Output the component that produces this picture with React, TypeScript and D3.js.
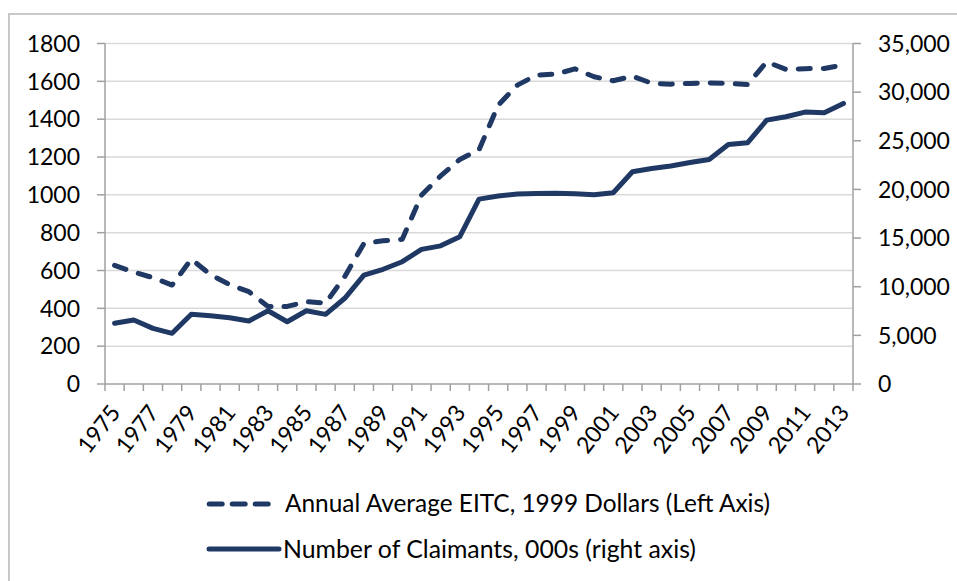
import React from 'react';
import * as d3 from 'd3';

const years = [
  '1975', '1976', '1977', '1978', '1979', '1980', '1981', '1982', '1983', '1984',
  '1985', '1986', '1987', '1988', '1989', '1990', '1991', '1992', '1993', '1994',
  '1995', '1996', '1997', '1998', '1999', '2000', '2001', '2002', '2003', '2004',
  '2005', '2006', '2007', '2008', '2009', '2010', '2011', '2012', '2013',
];

// annual average EITC, 1999 dollars (left axis)
const eitc = [
  627, 592, 562, 523, 660, 578, 525, 488, 410, 410,
  435, 428, 568, 743, 757, 765, 998, 1100, 1187, 1238,
  1474, 1580, 1633, 1638, 1666, 1624, 1603, 1627, 1590, 1585,
  1589, 1592, 1589, 1583, 1703, 1663, 1667, 1668, 1686,
];

// number of claimants, 000s (right axis)
const claimants = [
  6240, 6580, 5720, 5210, 7160, 7020, 6815, 6475, 7530, 6400,
  7530, 7160, 8810, 11200, 11790, 12570, 13840, 14200, 15140, 19000,
  19320, 19520, 19590, 19600, 19560, 19450, 19660, 21820, 22160, 22400,
  22770, 23080, 24620, 24790, 27120, 27470, 27950, 27880, 28840,
];

const leftTicks = [0, 200, 400, 600, 800, 1000, 1200, 1400, 1600, 1800];
const rightTicks = [0, 5000, 10000, 15000, 20000, 25000, 30000, 35000];

const legendLabels = [
  'Annual Average EITC, 1999 Dollars (Left Axis)',
  'Number of Claimants, 000s (right axis)',
];

const W = 957;
const H = 581;
const navy = '#1f3864';
const font = 'Lato, "Open Sans", sans-serif';

export default function App() {
  const left = 105, right = 853, top = 43.5, bottom = 384;

  const x = d3.scaleBand<string>().domain(years).range([left, right]).padding(0);
  const yL = d3.scaleLinear().domain([0, 1800]).range([bottom, top]);
  const yR = d3.scaleLinear().domain([0, 35000]).range([bottom, top]);
  const cx = (y: string) => (x(y) as number) + x.bandwidth() / 2;

  const eitcLine = d3.line<number>()
    .x((_, i) => cx(years[i]))
    .y(d => yL(d));
  const claimLine = d3.line<number>()
    .x((_, i) => cx(years[i]))
    .y(d => yR(d));

  const fmt = d3.format(',');
  const boundaries = d3.range(years.length + 1).map(i => left + i * x.step());

  return (
    <svg width={W} height={H} style={{ position: 'absolute', left: 0, top: 0, background: '#fff' }}
      fontFamily={font}>
      <rect x={9} y={14} width={980} height={620} fill="#fff" stroke="#c8c8c8" strokeWidth={2} />

      {/* grid */}
      {leftTicks.slice(1).map(t => (
        <line key={t} x1={left} x2={right} y1={yL(t)} y2={yL(t)} stroke="#d9d9d9" strokeWidth={1.5} />
      ))}

      {/* axes */}
      <line x1={left} x2={left} y1={top} y2={bottom} stroke="#a0a0a0" strokeWidth={1.5} />
      <line x1={right} x2={right} y1={top} y2={bottom} stroke="#a0a0a0" strokeWidth={1.5} />
      <line x1={left} x2={right} y1={bottom} y2={bottom} stroke="#a0a0a0" strokeWidth={1.5} />
      {leftTicks.map(t => (
        <g key={'l' + t}>
          <line x1={left - 8} x2={left} y1={yL(t)} y2={yL(t)} stroke="#a0a0a0" strokeWidth={1.5} />
          <text x={80} y={yL(t)} dy="0.36em" textAnchor="end" fontSize={23} fill="#000">{t}</text>
        </g>
      ))}
      {rightTicks.map(t => (
        <g key={'r' + t}>
          <line x1={right} x2={right + 8} y1={yR(t)} y2={yR(t)} stroke="#a0a0a0" strokeWidth={1.5} />
          <text x={878} y={yR(t)} dy="0.36em" textAnchor="start" fontSize={23} fill="#000">{fmt(t)}</text>
        </g>
      ))}
      {boundaries.map((b, i) => (
        <line key={'b' + i} x1={b} x2={b} y1={bottom} y2={bottom + 7} stroke="#a0a0a0" strokeWidth={1.5} />
      ))}
      {years.filter((_, i) => i % 2 === 0).map(yr => (
        <text key={yr} transform={`translate(${cx(yr) + 7},413) rotate(-52)`} textAnchor="end"
          fontSize={23} fill="#000">{yr}</text>
      ))}

      {/* series */}
      <path d={claimLine(claimants) ?? ''} fill="none" stroke={navy} strokeWidth={5}
        strokeLinejoin="round" strokeLinecap="round" />
      <path d={eitcLine(eitc) ?? ''} fill="none" stroke={navy} strokeWidth={5}
        strokeDasharray="12,13" strokeLinejoin="round" strokeLinecap="round" />

      {/* legend */}
      <line x1={209.2} x2={268.2} y1={504} y2={504} stroke={navy} strokeWidth={5}
        strokeDasharray="13,10" strokeLinecap="round" />
      <text x={285} y={512} fontSize={25} fill="#000" textLength={485}
        lengthAdjust="spacingAndGlyphs">{legendLabels[0]}</text>
      <line x1={209} x2={279} y1={549} y2={549} stroke={navy} strokeWidth={5} strokeLinecap="round" />
      <text x={283} y={558} fontSize={25} fill="#000" textLength={413}
        lengthAdjust="spacingAndGlyphs">{legendLabels[1]}</text>
    </svg>
  );
}
